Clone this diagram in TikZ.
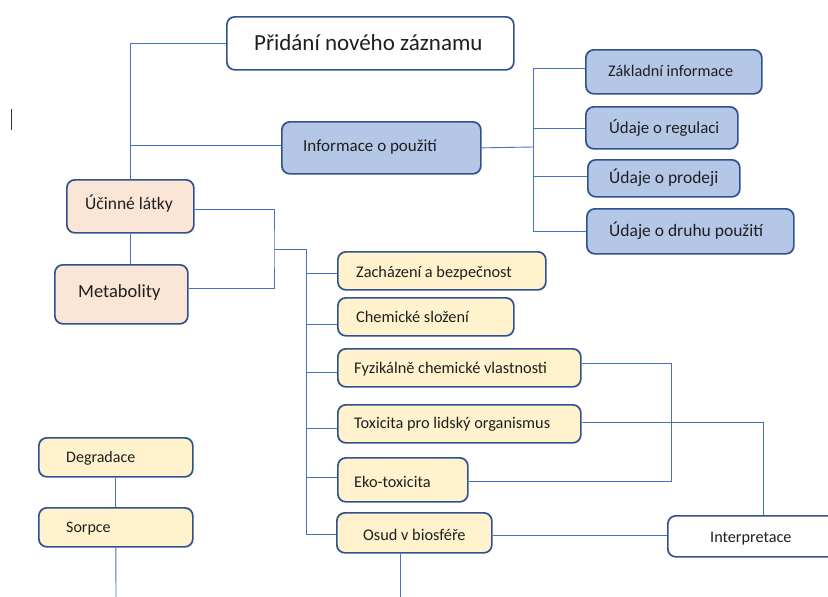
\documentclass[tikz,border=0pt]{standalone}
\usepackage{fontspec}
\setmainfont{Carlito}
\definecolor{bdr}{HTML}{2F528F}
\definecolor{lc}{HTML}{4472C4}
\definecolor{bfill}{HTML}{B4C7E7}
\definecolor{pfill}{HTML}{FBE5D6}
\definecolor{yfill}{HTML}{FFF2CC}
\newcommand\fsz[1]{\fontsize{#1}{#1}\selectfont}
\begin{document}
\begin{tikzpicture}[x=1pt,y=-1pt,
  boxbase/.style={draw=bdr,line width=1.7pt,rounded corners=8pt,anchor=north west,inner sep=0pt},
  wbox/.style={boxbase,fill=white},
  bbox/.style={boxbase,fill=bfill},
  pbox/.style={boxbase,fill=pfill},
  ybox/.style={boxbase,fill=yfill},
  txt/.style={anchor=base west,inner sep=0pt,text=black!88},
  conn/.style={draw=lc,line width=0.9pt}]
\useasboundingbox (0,0) rectangle (828,597);
\clip (0,0) rectangle (828,597);
% boxes
\node[wbox,minimum width=287pt,minimum height=53pt] (prid) at (226,16) {};
\node[txt,font=\fsz{23}] (prid-t) at (254,50) {Přidání nového záznamu};
\node[bbox,minimum width=199pt,minimum height=52pt] (info) at (281,121) {};
\node[txt,font=\fsz{17}] (info-t) at (303,151) {Informace o použití};
\node[bbox,minimum width=176pt,minimum height=44pt] (zakl) at (585,49) {};
\node[txt,font=\fsz{16.2}] (zakl-t) at (608,76) {Základní informace};
\node[bbox,minimum width=152pt,minimum height=42pt] (regu) at (585,106) {};
\node[txt,font=\fsz{16.8}] (regu-t) at (609,133) {Údaje o regulaci};
\node[bbox,minimum width=152pt,minimum height=37pt] (prod) at (587,159) {};
\node[txt,font=\fsz{17.5}] (prod-t) at (609,183) {Údaje o prodeji};
\node[bbox,minimum width=207pt,minimum height=45pt] (druh) at (586,208) {};
\node[txt,font=\fsz{17.5}] (druh-t) at (609,236) {Údaje o druhu použití};
\node[pbox,minimum width=127pt,minimum height=53pt] (ucin) at (66,179) {};
\node[txt,font=\fsz{17.5}] (ucin-t) at (85,209) {Účinné látky};
\node[pbox,minimum width=133pt,minimum height=59pt] (meta) at (54,264) {};
\node[txt,font=\fsz{18.5}] (meta-t) at (78,297) {Metabolity};
\node[ybox,minimum width=208pt,minimum height=38pt] (zach) at (337,251) {};
\node[txt,font=\fsz{16.3}] (zach-t) at (356,277) {Zacházení a bezpečnost};
\node[ybox,minimum width=176pt,minimum height=38pt] (chem) at (337,297) {};
\node[txt,font=\fsz{16.3}] (chem-t) at (356,322) {Chemické složení};
\node[ybox,minimum width=243pt,minimum height=38pt] (fyz) at (337,348) {};
\node[txt,font=\fsz{16.3}] (fyz-t) at (354,373) {Fyzikálně chemické vlastnosti};
\node[ybox,minimum width=243pt,minimum height=38pt] (tox) at (337,404) {};
\node[txt,font=\fsz{16.3}] (tox-t) at (354,428) {Toxicita pro lidský organismus};
\node[ybox,minimum width=130pt,minimum height=44pt] (eko) at (337,457) {};
\node[txt,font=\fsz{16.3}] (eko-t) at (354,487.5) {Eko-toxicita};
\node[ybox,minimum width=155pt,minimum height=40pt] (osud) at (336,512) {};
\node[txt,font=\fsz{16.3}] (osud-t) at (363,540) {Osud v biosféře};
\node[wbox,minimum width=180pt,minimum height=41pt] (interp) at (667,515) {};
\node[txt,font=\fsz{16.2}] (interp-t) at (710,542) {Interpretace};
\node[ybox,minimum width=154pt,minimum height=39pt] (degr) at (38,437) {};
\node[txt,font=\fsz{16}] (degr-t) at (66,462.5) {Degradace};
\node[ybox,minimum width=154pt,minimum height=39pt] (sorp) at (38,507) {};
\node[txt,font=\fsz{16}] (sorp-t) at (66,532.5) {Sorpce};
% junction coordinates
\coordinate (j1) at (274,249);
\coordinate (j2) at (306,249);
\coordinate (k1) at (533,147);
\coordinate (ktop) at (533,68);
\coordinate (kbot) at (533,232);
\coordinate (ob) at (400,600);
\coordinate (sb) at (116,600);
% connectors
\draw[conn] (prid.west) -| (ucin.north);
\draw[conn] (info.west |- 0,145) -- (ucin.north |- 0,145);
\draw[conn] (ucin.south) -- (meta.north -| ucin.south);
\draw[conn] (ucin.east |- 0,209) -| (j1) |- (meta.east |- 0,288);
\draw[conn] (j1) -- (j2) |- (osud.west |- 0,534);
\draw[conn] (j2 |- 0,273) -- (zach.west |- 0,273);
\draw[conn] (j2 |- 0,324) -- (chem.west |- 0,324);
\draw[conn] (j2 |- 0,372) -- (fyz.west |- 0,372);
\draw[conn] (j2 |- 0,428) -- (tox.west |- 0,428);
\draw[conn] (j2 |- 0,477) -- (eko.west |- 0,477);
\draw[conn] (info.east) -- (k1);
\draw[conn] (ktop) -- (kbot);
\draw[conn] (ktop) -- (zakl.west |- ktop);
\draw[conn] (ktop |- 0,128) -- (regu.west |- 0,128);
\draw[conn] (ktop |- 0,176) -- (prod.west |- 0,176);
\draw[conn] (kbot |- 0,231) -- (druh.west |- 0,231);
\draw[conn] (fyz.east |- 0,363) -| (671,481) -- (eko.east |- 0,481);
\draw[conn] (tox.east |- 0,422) -| (interp.north -| 763,0);
\draw[conn] (osud.east |- 0,535) -- (interp.west |- 0,535);
\draw[conn] (osud.south -| ob) -- (ob);
\draw[conn] (degr.south) -- (sorp.north);
\draw[conn] (sorp.south) -- (sb);
% stray cursor mark
\draw[black!80,line width=0.8pt] (11,109) -- (11,130);
\end{tikzpicture}
\end{document}
